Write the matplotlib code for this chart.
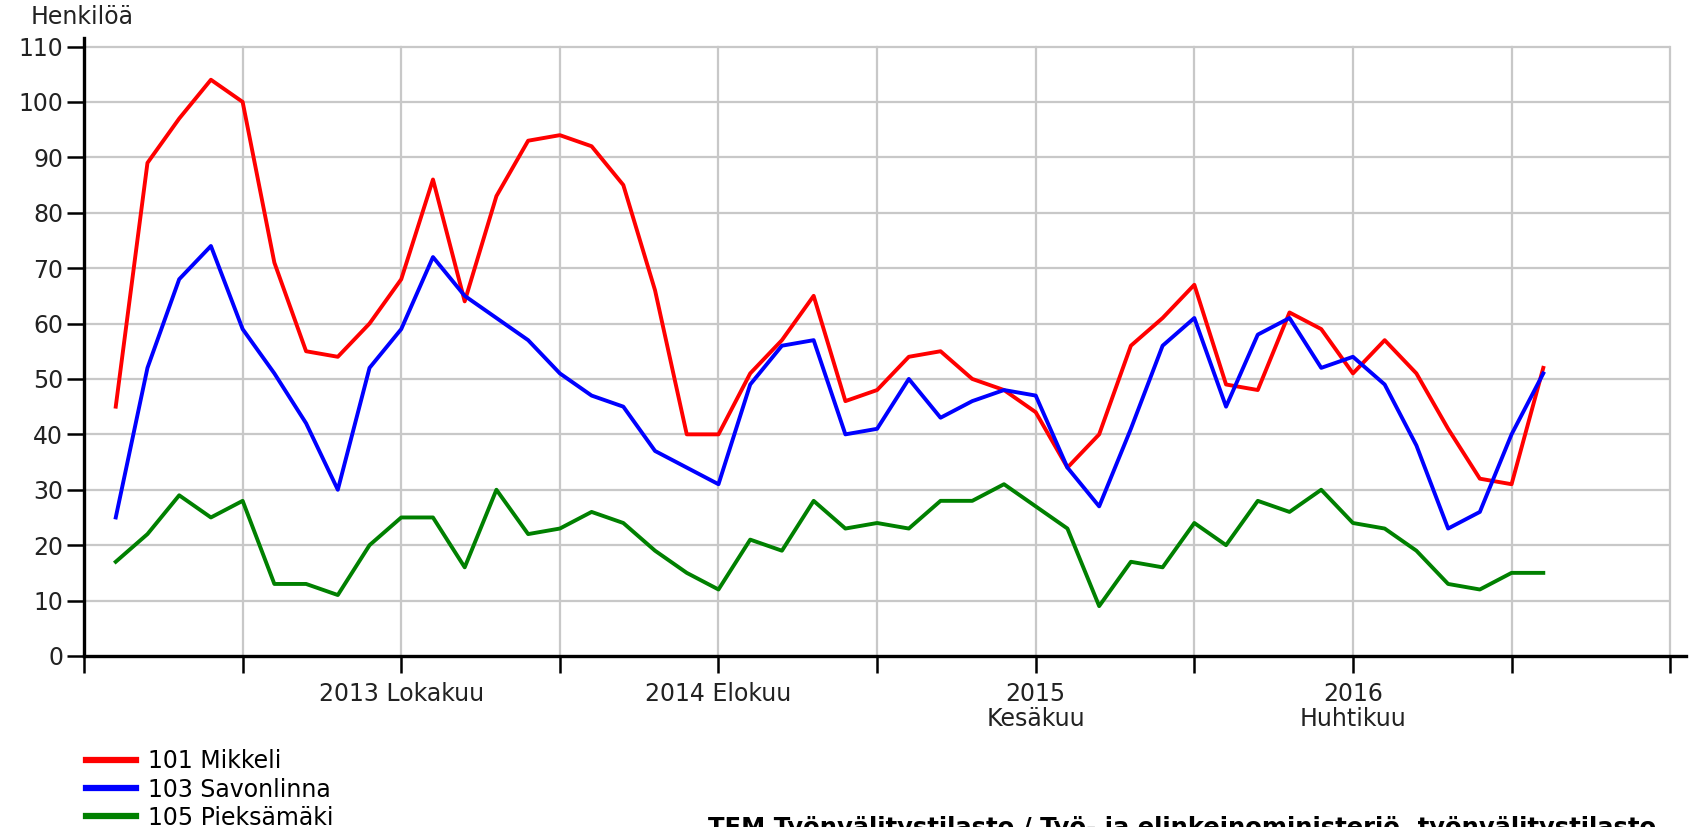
import numpy as np
import matplotlib.pyplot as plt

plt.rcParams['font.family'] = ['DejaVu Sans']

# kuukaudet 2013-01 ... 2016-10, sijainti 1..46
months = np.arange(1, 47)

mikkeli = [45, 89, 97, 104, 100, 71, 55, 54, 60, 68, 86, 64, 83, 93, 94, 92,
           85, 66, 40, 40, 51, 57, 65, 46, 48, 54, 55, 50, 48, 44, 34, 40,
           56, 61, 67, 49, 48, 62, 59, 51, 57, 51, 41, 32, 31, 52]
savonlinna = [25, 52, 68, 74, 59, 51, 42, 30, 52, 59, 72, 65, 61, 57, 51, 47,
              45, 37, 34, 31, 49, 56, 57, 40, 41, 50, 43, 46, 48, 47, 34, 27,
              41, 56, 61, 45, 58, 61, 52, 54, 49, 38, 23, 26, 40, 51]
pieksamaki = [17, 22, 29, 25, 28, 13, 13, 11, 20, 25, 25, 16, 30, 22, 23, 26,
              24, 19, 15, 12, 21, 19, 28, 23, 24, 23, 28, 28, 31, 27, 23, 9,
              17, 16, 24, 20, 28, 26, 30, 24, 23, 19, 13, 12, 15, 15]

series = [
    ('101 Mikkeli', mikkeli, '#ff0000'),
    ('103 Savonlinna', savonlinna, '#0000ff'),
    ('105 Pieksämäki', pieksamaki, '#008000'),
]

xtick_pos = np.arange(0, 51, 5)
xtick_labels = ['', '', '2013 Lokakuu', '', '2014 Elokuu', '',
                '2015\nKesäkuu', '', '2016\nHuhtikuu', '', '']
yticks = np.arange(0, 111, 10)

fig = plt.figure(figsize=(16.94, 8.27), dpi=100)
ax = fig.add_axes([0.0496, 0.2068, 0.9457, 0.747])

grid_col = '#c8c8c8'
for x in xtick_pos[1:]:
    ax.plot([x, x], [0, 110], color=grid_col, lw=1.6, zorder=0)
ax.hlines(yticks[1:], 0, 50, color=grid_col, lw=1.6, zorder=0)

lines = []
for name, vals, col in series:
    ln, = ax.plot(months, vals, color=col, lw=2.8, label=name, zorder=3)
    lines.append(ln)

ax.set_xlim(0, 50.5)
ax.set_ylim(0, 111.5)
ax.set_xticks(xtick_pos)
ax.set_xticklabels(xtick_labels, fontsize=17, color='#222222', linespacing=1.05)
ax.set_yticks(yticks)
ax.set_yticklabels([str(v) for v in yticks], fontsize=17, color='#222222')
ax.tick_params(axis='x', length=12, width=1.8, pad=7)
ax.tick_params(axis='y', length=12, width=1.8, pad=3)

for s in ['top', 'right']:
    ax.spines[s].set_visible(False)
for s in ['left', 'bottom']:
    ax.spines[s].set_linewidth(2.4)

fig.text(0.018, 0.979, 'Henkilöä', fontsize=17, color='#222222', va='center', ha='left')

leg = fig.legend(handles=lines, loc='upper left', bbox_to_anchor=(0.051, 0.094),
                 frameon=False, fontsize=17, handlelength=2.1, handletextpad=0.5,
                 labelspacing=0.18, borderaxespad=0, borderpad=0)
for h in leg.get_lines():
    h.set_linewidth(4.5)

fig.text(0.418, 0.013, 'TEM Työnvälitystilasto / Työ- ja elinkeinoministeriö, työnvälitystilasto',
         fontsize=17.5, fontweight='bold', va='top', ha='left')

fig.savefig('out.png', dpi=100)
